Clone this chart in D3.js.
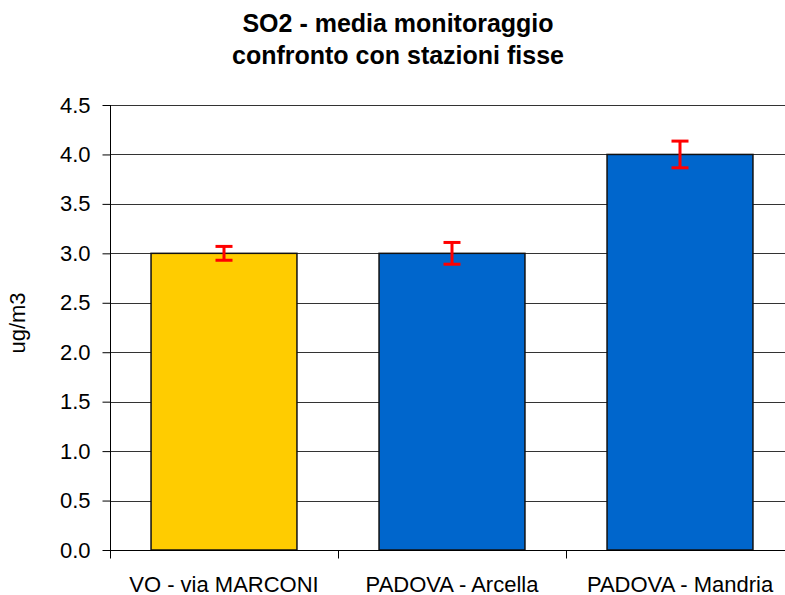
<!DOCTYPE html>
<head>
<meta charset="utf-8">
<style>
  body { margin: 0; padding: 0; background: #fff; font-family: 'Liberation Sans', Arial, sans-serif; }
  .title { font-weight: bold; font-size: 25px; fill: #000; }
</style>
</head>
<body>
<div id="vis"></div>
<script src="https://cdn.jsdelivr.net/npm/d3@7"></script>
<script>
var stations = ['VO - via MARCONI', 'PADOVA - Arcella', 'PADOVA - Mandria'];
var means = [3.0, 3.0, 4.0];
var errors = [0.07, 0.11, 0.135];
var barColors = ['#FFCC00', '#0066CC', '#0066CC'];
var yTicks = [0, 0.5, 1, 1.5, 2, 2.5, 3, 3.5, 4, 4.5];

var width = 785, height = 595,
    plotLeft = 110, plotRight = 794, plotTop = 105, plotBottom = 550,
    labelFont = '22px';

var svg = d3.select('#vis').append('svg')
  .attr('width', width).attr('height', height);

var x = d3.scaleBand().domain(stations).range([plotLeft, plotRight]).paddingInner(0.36).paddingOuter(0.18);
var xb = d3.scaleBand().domain(stations).range([plotLeft, plotRight]);
var y = d3.scaleLinear().domain([0, 4.5]).range([plotBottom, plotTop]);

// gridlines
svg.append('g').selectAll('line').data(yTicks.slice(1)).enter().append('line')
  .attr('x1', plotLeft).attr('x2', plotRight)
  .attr('y1', function(d) { return Math.round(y(d)) + 0.5; })
  .attr('y2', function(d) { return Math.round(y(d)) + 0.5; })
  .attr('stroke', '#333').attr('stroke-width', 1);

// bars
svg.append('g').selectAll('rect').data(stations).enter().append('rect')
  .attr('x', function(d) { return x(d); })
  .attr('width', x.bandwidth())
  .attr('y', function(d, i) { return y(means[i]); })
  .attr('height', function(d, i) { return plotBottom - y(means[i]); })
  .attr('fill', function(d, i) { return barColors[i]; })
  .attr('stroke', '#111').attr('stroke-width', 1.5);

// error bars
var err = svg.append('g').selectAll('g').data(stations).enter().append('g')
  .attr('stroke', '#FF0000').attr('stroke-width', 3);
err.append('line')
  .attr('x1', function(d) { return x(d) + x.bandwidth() / 2; })
  .attr('x2', function(d) { return x(d) + x.bandwidth() / 2; })
  .attr('y1', function(d, i) { return y(means[i] + errors[i]); })
  .attr('y2', function(d, i) { return y(means[i] - errors[i]); });
[1, -1].forEach(function(s) {
  err.append('line')
    .attr('x1', function(d) { return x(d) + x.bandwidth() / 2 - 8.5; })
    .attr('x2', function(d) { return x(d) + x.bandwidth() / 2 + 8.5; })
    .attr('y1', function(d, i) { return y(means[i] + s * errors[i]); })
    .attr('y2', function(d, i) { return y(means[i] + s * errors[i]); });
});

// y axis
var yAxis = svg.append('g').attr('transform', 'translate(' + (plotLeft + 0.5) + ',0)')
  .call(d3.axisLeft(y).tickValues(yTicks).tickFormat(d3.format('.1f')).tickSize(8).tickPadding(12));
yAxis.selectAll('path, line').attr('stroke', '#000');
yAxis.select('.domain').attr('d', 'M0,' + plotTop + 'V' + plotBottom);
yAxis.selectAll('text').style('font-size', labelFont).attr('fill', '#000')
  .style('font-family', "'Liberation Sans', Arial, sans-serif");

// x axis
var xAxis = svg.append('g').attr('transform', 'translate(0,' + (plotBottom + 0.5) + ')');
xAxis.append('line').attr('x1', plotLeft).attr('x2', plotRight).attr('stroke', '#000');
xAxis.selectAll('.tk').data(stations.concat(['end'])).enter().append('line')
  .attr('x1', function(d, i) { return Math.round(plotLeft + i * xb.bandwidth()) + 0.5; })
  .attr('x2', function(d, i) { return Math.round(plotLeft + i * xb.bandwidth()) + 0.5; })
  .attr('y1', 0).attr('y2', 8).attr('stroke', '#000');
xAxis.selectAll('text').data(stations).enter().append('text')
  .attr('x', function(d) { return xb(d) + xb.bandwidth() / 2; })
  .attr('y', 41)
  .attr('text-anchor', 'middle')
  .style('font-size', labelFont)
  .text(function(d) { return d; });

// y label
svg.append('text')
  .attr('transform', 'translate(25,323) rotate(-90)')
  .attr('text-anchor', 'middle')
  .style('font-size', labelFont)
  .text('ug/m3');

// title
var title = svg.append('text').attr('class', 'title').attr('text-anchor', 'middle');
title.append('tspan').attr('x', 398).attr('y', 32).text('SO2 - media monitoraggio');
title.append('tspan').attr('x', 398).attr('y', 64).text('confronto con stazioni fisse');
</script>
</body>
